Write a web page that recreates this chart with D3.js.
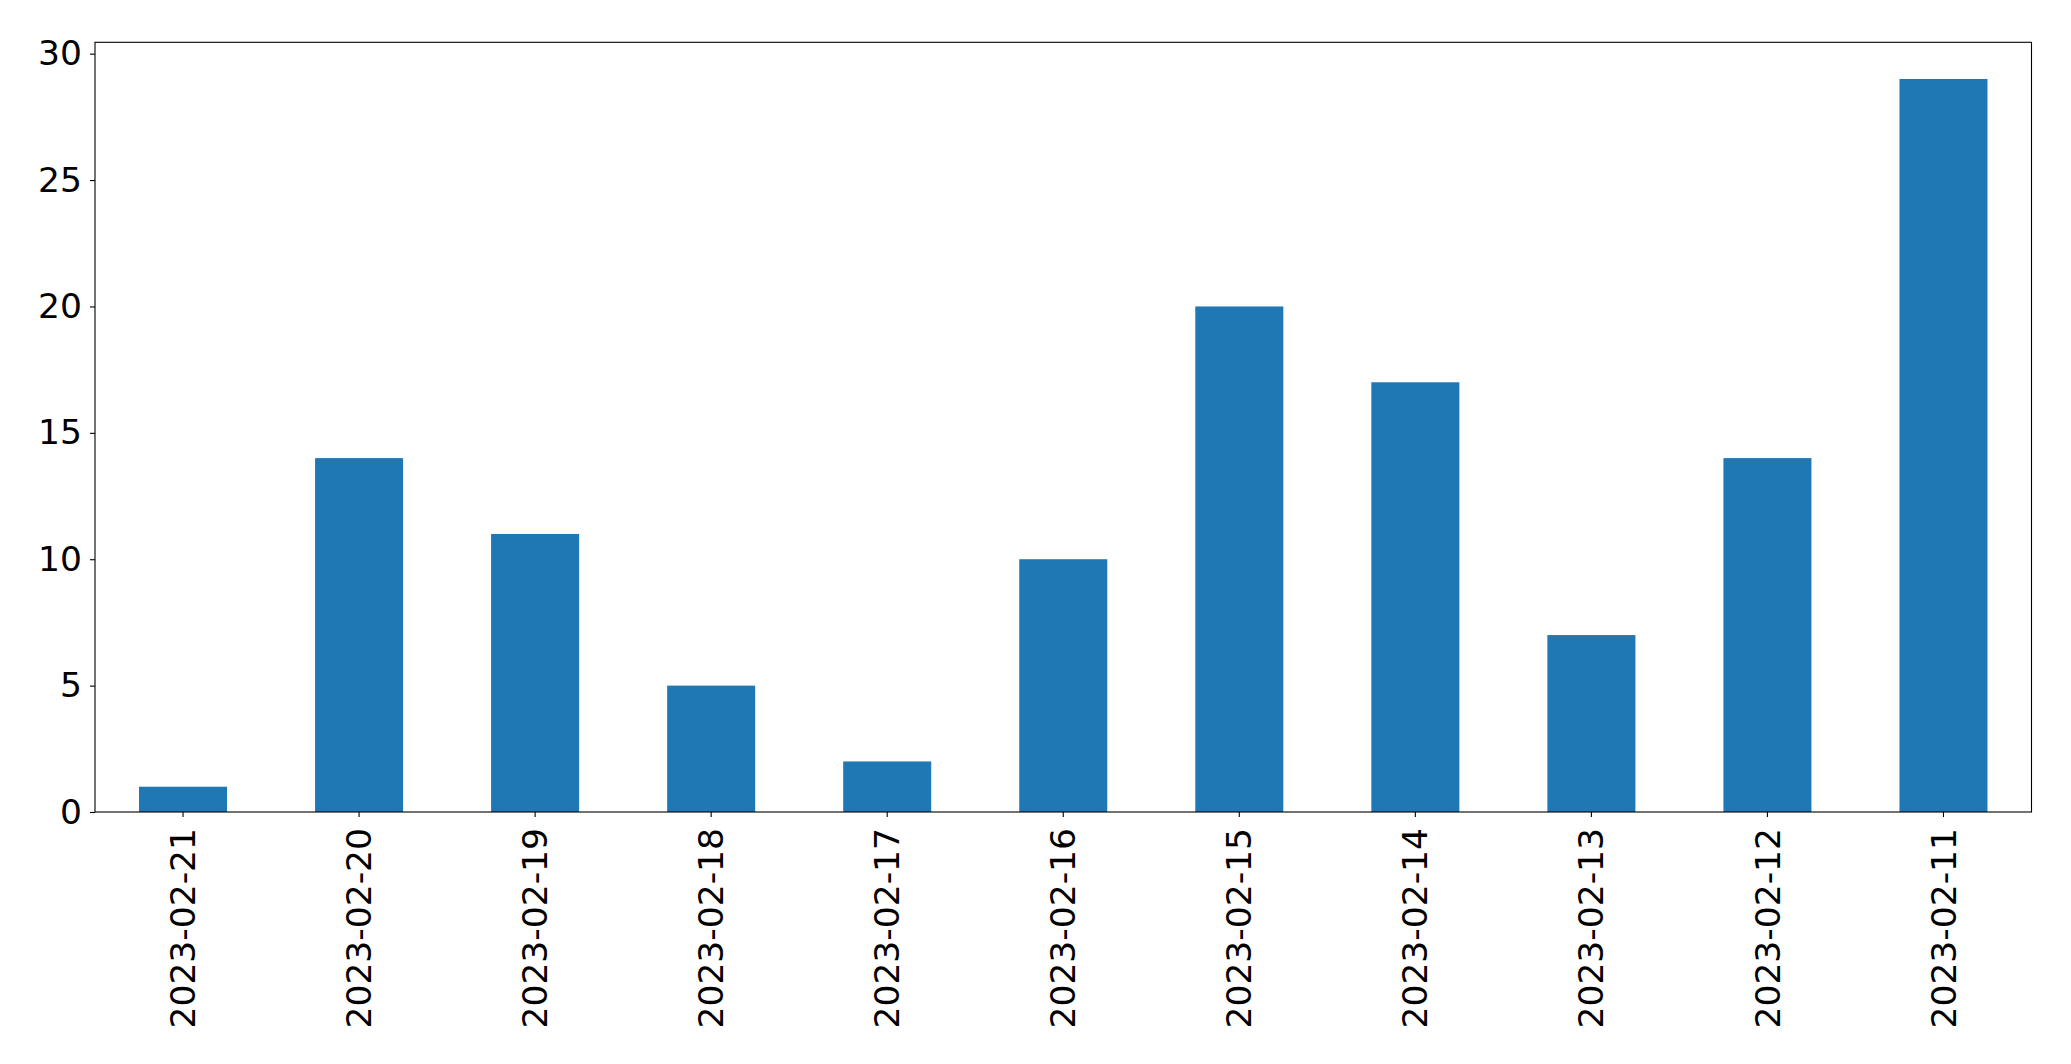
<!DOCTYPE html>
<html>
<head>
<meta charset="utf-8">
<script src="https://cdn.jsdelivr.net/npm/d3@7"></script>
<style>
  html, body { margin: 0; padding: 0; background: #fff; }
  svg { display: block; }
</style>
</head>
<body>
<script>
const categories = ["2023-02-21","2023-02-20","2023-02-19","2023-02-18","2023-02-17","2023-02-16","2023-02-15","2023-02-14","2023-02-13","2023-02-12","2023-02-11"];
const values = [1, 14, 11, 5, 2, 10, 20, 17, 7, 14, 29];
const yTicks = [0, 5, 10, 15, 20, 25, 30];

const W = 2071, H = 1064;
const margin = { left: 95, right: W - 2031.5, top: 42.3, bottom: H - 812 };
const iw = W - margin.left - margin.right;
const ih = H - margin.top - margin.bottom;

const svg = d3.select("body").append("svg").attr("width", W).attr("height", H);
const g = svg.append("g").attr("transform", `translate(${margin.left},${margin.top})`);

const x = d3.scaleBand().domain(categories).range([0, iw]).paddingInner(0.5).paddingOuter(0.25);
const y = d3.scaleLinear().domain([0, d3.max(values) * 1.05]).range([ih, 0]);

g.selectAll("rect.bar").data(values).join("rect")
  .attr("class", "bar")
  .attr("x", (d, i) => x(categories[i]))
  .attr("width", x.bandwidth())
  .attr("y", d => y(d))
  .attr("height", d => ih - y(d))
  .attr("fill", "#1f77b4");

const font = "'DejaVu Sans', sans-serif";

const yAxis = g.append("g").call(d3.axisLeft(y).tickValues(yTicks).tickSize(5).tickPadding(8).tickFormat(d3.format("d")));
yAxis.select(".domain").remove();
yAxis.selectAll("line").attr("stroke", "#000").attr("stroke-width", 1.1);
yAxis.selectAll("text").attr("font-family", font).attr("font-size", 34.5).attr("fill", "#000");

const xAxis = g.append("g").attr("transform", `translate(0,${ih})`).call(d3.axisBottom(x).tickSize(5).tickPadding(0));
xAxis.select(".domain").remove();
xAxis.selectAll("line").attr("stroke", "#000").attr("stroke-width", 1.1);
xAxis.selectAll("text")
  .attr("font-family", font).attr("font-size", 34.5).attr("fill", "#000")
  .attr("transform", "rotate(-90)")
  .attr("text-anchor", "end")
  .attr("x", -16).attr("y", 0).attr("dy", "0.35em");

g.append("rect").attr("x", 0).attr("y", 0).attr("width", iw).attr("height", ih)
  .attr("fill", "none").attr("stroke", "#000").attr("stroke-width", 1.1);
</script>
</body>
</html>
